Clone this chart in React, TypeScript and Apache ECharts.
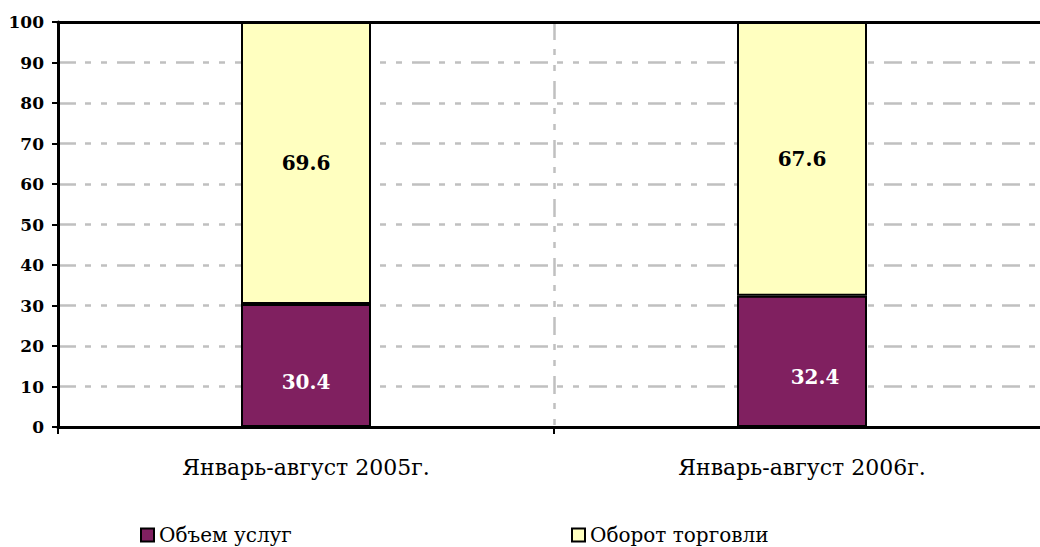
import React, { useEffect, useRef } from "react";
import * as echarts from "echarts";

const categories = ["Январь-август 2005г.", "Январь-август 2006г."];
const seriesNames = ["Объем услуг", "Оборот торговли"];
const servicesValues = [30.4, 32.4];
const tradeValues = [69.6, 67.6];
const yTicks = [0, 10, 20, 30, 40, 50, 60, 70, 80, 90, 100];

const FONT = "'DejaVu Serif', serif";
const GRID_DASH = [18, 9, 6, 10, 6, 10];
const servicesLabelOffsets = [[0, 17], [13, 16]];

export default function App() {
  const ref = useRef<HTMLDivElement>(null);
  useEffect(() => {
    if (!ref.current) return;
    const chart = echarts.init(ref.current, null, { renderer: "svg" });
    const legendText = { fontFamily: FONT, fontSize: 20, color: "#000", lineHeight: 22 };
    chart.setOption({
      animation: false,
      backgroundColor: "#ffffff",
      grid: {
        left: 58,
        top: 22,
        width: 992,
        height: 405,
        show: false,
      },
      legend: [
        {
          data: [seriesNames[0]],
          left: 140,
          top: 524,
          padding: 0,
          icon: "rect",
          itemWidth: 13,
          itemHeight: 13,
          itemGap: 5,
          textStyle: legendText,
        },
        {
          data: [seriesNames[1]],
          left: 571,
          top: 524,
          padding: 0,
          icon: "rect",
          itemWidth: 13,
          itemHeight: 13,
          itemGap: 5,
          textStyle: legendText,
        },
      ],
      xAxis: [
        {
          type: "category",
          data: categories,
          boundaryGap: true,
          axisLine: { show: true, lineStyle: { color: "#000", width: 3 } },
          axisTick: { show: true, length: 7, lineStyle: { color: "#000", width: 2 } },
          axisLabel: { fontFamily: FONT, fontSize: 22, color: "#000", margin: 29 },
          splitLine: { show: true, lineStyle: { color: "#c0c0c0", width: 2.5, type: GRID_DASH } },
        },
        {
          type: "category",
          data: categories,
          position: "top",
          z: 5,
          axisLine: { show: true, lineStyle: { color: "#000", width: 3 } },
          axisTick: { show: false },
          axisLabel: { show: false },
          splitLine: { show: false },
        },
      ],
      yAxis: {
        type: "value",
        min: yTicks[0],
        max: yTicks[yTicks.length - 1],
        interval: 10,
        axisLine: { show: true, lineStyle: { color: "#000", width: 3 } },
        axisTick: { show: true, length: 6, lineStyle: { color: "#000", width: 2 } },
        axisLabel: { fontFamily: FONT, fontSize: 17, fontWeight: "bold", color: "#000", margin: 14 },
        splitLine: { show: true, lineStyle: { color: "#c0c0c0", width: 2.5, type: GRID_DASH } },
      },
      series: [
        {
          name: seriesNames[0],
          type: "bar",
          stack: "total",
          barWidth: 130,
          itemStyle: { color: "#802060", borderColor: "#000", borderWidth: 2 },
          label: {
            show: true,
            position: "inside",
            fontFamily: FONT,
            fontSize: 20,
            fontWeight: "bold",
            color: "#fff",
          },
          data: servicesValues.map((v, i) => ({
            value: v,
            label: { offset: servicesLabelOffsets[i] },
          })),
        },
        {
          name: seriesNames[1],
          type: "bar",
          stack: "total",
          barWidth: 130,
          itemStyle: { color: "#ffffc0", borderColor: "#000", borderWidth: 2 },
          label: {
            show: true,
            position: "inside",
            fontFamily: FONT,
            fontSize: 20,
            fontWeight: "bold",
            color: "#000",
          },
          data: tradeValues,
        },
      ],
    });
    return () => chart.dispose();
  }, []);
  return (
    <div style={{ position: "absolute", left: 0, top: 0, width: 1040, height: 547, overflow: "hidden" }}>
      <div ref={ref} style={{ width: 1070, height: 547 }} />
    </div>
  );
}
